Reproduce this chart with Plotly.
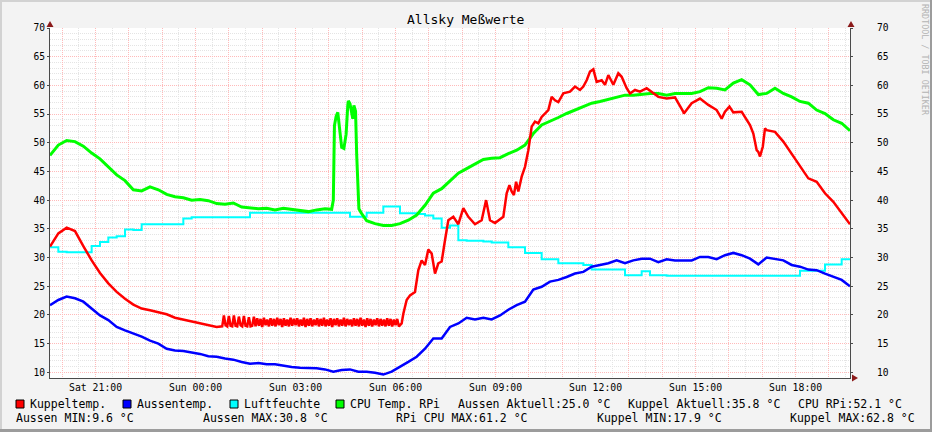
import pandas as pd
import plotly.graph_objects as go

# ---------------- data ----------------
START = "2024-06-15 19:38"   # Saturday
END = "2024-06-16 19:38"     # Sunday
base_times = pd.date_range(START, END, freq="15min")   # 97 samples

# Kuppeltemp (red): None where the detailed lists below take over
kuppel_v = [31.9, 34.2, 35.2, 34.6, 32.0, 29.5, 27.3, 25.5, 24.0, 22.8,
            21.8, 21.1, 20.8, 20.4, 20.1, 19.5, 19.2, 18.8, 18.5, 18.2,
            17.9] + [None] * 53 + [
            57.7, 57.9, 55.4, 56.9, 57.7, 56.6, 55.7, 55.4, 55.3, 55.4,
            53.1, 48.4, 52.2, 51.9, 50.2, 48.1, 45.8, 43.8, 43.2, 41.2,
            39.7, 37.7, 35.8]
# night-time flicker of the dome sensor, 3-minute samples from Sun 00:48
kuppel_noise_v = [18.0, 19.9, 18.2, 18.0, 19.8, 18.1, 18.0, 19.9, 18.1, 18.0,
                  19.7, 18.2, 18.0, 19.8, 18.1, 18.0, 19.6, 18.0, 18.1, 19.7,
                  18.0, 19.4, 18.1, 19.3, 17.9, 19.5, 18.2, 19.2, 18.0, 19.4,
                  18.1, 19.3, 18.0, 19.5, 18.2, 19.3, 17.9, 19.4, 18.1, 19.2,
                  18.0, 19.5, 18.1, 19.3, 18.2, 19.4, 18.0, 19.2, 18.1, 19.5,
                  17.9, 19.3, 18.1, 19.4, 18.0, 19.2, 18.2, 19.4, 18.0, 19.3,
                  18.1, 19.5, 18.0, 19.2, 18.1, 19.4, 17.9, 19.3, 18.2, 19.4,
                  18.0, 19.2, 18.1, 19.5, 18.0, 19.3, 18.2, 19.2, 18.0, 19.4,
                  18.1, 19.3, 18.0, 19.5, 18.1, 19.2, 17.9, 19.4, 18.1, 19.3,
                  18.0, 19.2, 18.2, 19.4, 18.0, 19.3, 18.1, 19.2, 18.0, 19.4,
                  18.1, 19.3, 18.0, 19.2, 18.2, 19.3, 18.0, 18.3]
kuppel_extra_t = ["06:11", "06:14", "06:20", "06:26", "06:35", "06:41", "06:47", "06:53",
                  "06:59", "07:05", "07:11", "07:17", "07:23", "07:29", "07:35", "07:44",
                  "07:53", "08:02", "08:11", "08:23", "08:35", "08:43", "08:50", "08:59",
                  "09:14", "09:20", "09:25", "09:29", "09:33", "09:37", "09:41", "09:47",
                  "09:53", "09:59", "10:05", "10:11", "10:17", "10:23", "10:29", "10:35",
                  "10:41", "10:47", "10:53", "11:02", "11:14", "11:23", "11:32", "11:38",
                  "11:44", "11:50", "11:56", "12:02", "12:11", "12:17", "12:23", "12:32",
                  "12:41", "12:47", "12:56", "13:02", "13:11", "13:20", "13:32", "13:44",
                  "13:53", "14:39", "15:47", "16:01", "16:44", "16:50", "16:56", "17:01",
                  "17:05"]
kuppel_extra_v = [18.5, 20.2, 22.6, 23.4, 24.0, 27.8, 29.5, 28.7,
                  31.4, 30.7, 27.2, 29.0, 29.3, 33.0, 36.5, 37.1,
                  35.8, 38.6, 37.1, 35.8, 36.5, 40.0, 36.5, 36.0,
                  37.1, 41.2, 42.6, 41.5, 40.9, 43.2, 41.5, 44.1,
                  45.8, 48.7, 52.8, 53.7, 53.4, 54.5, 55.1, 55.7,
                  58.0, 57.4, 57.1, 58.6, 58.9, 59.8, 59.2, 59.8,
                  60.9, 62.4, 62.8, 60.6, 60.9, 60.1, 61.8, 60.1,
                  62.1, 61.5, 59.5, 58.6, 59.2, 58.9, 59.5, 58.6,
                  58.0, 55.1, 54.2, 56.3, 51.6, 48.7, 47.6, 49.3,
                  52.5]

# Aussentemp (blue)
aussen_v = [21.7, 22.6, 23.2, 22.9, 22.3, 21.1, 19.9, 19.1, 17.9, 17.3,
            16.8, 16.2, 15.5, 15.0, 14.1, 13.8, 13.7, 13.5, 13.2, 12.8,
            12.7, 12.4, 12.2, 11.8, 11.5, 11.6, 11.4, 11.4, 11.1, 10.9,
            10.8, 10.8, 10.7, 10.5, 10.1, 10.4, 10.5, 10.1, 10.1, 9.9,
            9.6, 10.1, 10.9, 11.8, 12.7, 14.1, 15.9, 15.9, 17.9, 18.5,
            19.5, 19.2, 19.5, 19.2, 19.9, 20.9, 21.7, 22.3, 24.4, 24.9,
            25.8, 26.1, 26.6, 27.2, 27.5, 28.4, 28.7, 29.0, 29.5, 29.0,
            29.5, 29.8, 29.8, 29.2, 29.7, 29.5, 29.5, 29.5, 30.1, 30.1,
            29.7, 30.4, 30.8, 30.4, 29.8, 28.8, 30.0, 29.7, 29.5, 28.7,
            28.4, 27.9, 27.8, 27.2, 26.6, 26.1, 25.0]

# Luftfeuchte (cyan, stepped)
luft_v = [31.8, 31.0, 30.9, 30.9, 30.9, 32.0, 32.7, 33.5, 33.7, 34.9,
          34.8, 35.8, 35.8, 35.8, 35.8, 35.8, 36.8, 37.0, 37.0, 37.0,
          37.0, 37.0, 37.0, 37.0, 37.8, 37.8, 37.8, 37.8, 37.8, 37.8,
          37.8, 37.8, 37.8, 37.8, 37.8, 37.8, 37.1, 37.1, 37.8, 37.8,
          38.9, 38.9, 37.7, 37.7, 37.6, 37.3, 36.8, 35.2, 35.6, 33.0,
          32.9, 32.9, 32.8, 32.6, 32.6, 31.8, 31.8, 30.8, 30.8, 29.7,
          29.7, 29.0, 29.0, 29.0, 28.7, 27.9, 27.9, 27.9, 27.9, 26.9,
          26.9, 27.6, 26.9, 26.9, 26.8, 26.8, 26.8, 26.8, 26.8, 26.8,
          26.8, 26.8, 26.8, 26.8, 26.8, 26.8, 26.8, 26.8, 26.8, 26.8,
          27.7, 27.7, 27.7, 28.8, 28.8, 29.7, 29.7]

# CPU Temp. RPi (green)
cpu_v = [47.8, 49.6, 50.4, 50.2, 49.4, 48.2, 47.2, 45.8, 44.4, 43.4,
         41.8, 41.6, 42.3, 41.8, 41.0, 40.6, 40.4, 40.0, 40.1, 39.9,
         39.4, 39.3, 39.5, 38.8, 38.6, 38.5, 38.6, 38.3, 38.6, 38.4,
         38.2, 38.0, 38.3, 38.5, None, None, None, None, 36.4, 35.9,
         35.6, 35.6, 35.9, 36.5, 37.4, 39.1, 41.2, 42.0, 43.3, 44.7,
         45.5, 46.3, 47.1, 47.3, 47.4, 48.1, 48.7, 49.6, 51.6, 53.1,
         53.7, 54.4, 55.1, 55.7, 56.3, 56.9, 57.2, 57.6, 57.9, 58.3,
         58.3, 58.5, 58.6, 58.6, 58.3, 58.6, 58.6, 58.6, 58.9, 59.6,
         59.5, 59.2, 60.4, 61.0, 60.1, 58.4, 58.6, 59.5, 58.6, 58.0,
         57.2, 56.9, 55.7, 55.1, 54.0, 53.4, 52.1]
cpu_spike_t = ["04:05", "04:08", "04:10", "04:13", "04:16", "04:18", "04:21", "04:23",
               "04:27", "04:31", "04:34", "04:35", "04:38", "04:41", "04:43", "04:45",
               "04:48", "04:50", "04:52", "04:54", "04:58"]
cpu_spike_v = [38.4, 40.0, 53.0, 54.6, 55.3, 53.5, 50.5, 49.2,
               49.0, 51.5, 56.5, 57.3, 56.8, 55.0, 54.2, 56.5,
               55.5, 48.0, 41.5, 38.5, 37.8]

x_tick_hours = pd.date_range("2024-06-15 20:00", "2024-06-16 19:00", freq="1h")
x_tick_labels = {"2024-06-15 21:00": "Sat 21:00", "2024-06-16 00:00": "Sun 00:00",
                 "2024-06-16 03:00": "Sun 03:00", "2024-06-16 06:00": "Sun 06:00",
                 "2024-06-16 09:00": "Sun 09:00", "2024-06-16 12:00": "Sun 12:00",
                 "2024-06-16 15:00": "Sun 15:00", "2024-06-16 18:00": "Sun 18:00"}

legend_names = ["Kuppeltemp.", "Aussentemp.", "Luftfeuchte", "CPU Temp. RPi"]
legend_colors = ["#FF0000", "#0000FF", "#00FFFF", "#00FF00"]
stats_row1 = ["Aussen Aktuell:25.0 °C", "Kuppel Aktuell:35.8 °C", "CPU RPi:52.1 °C"]
stats_row2 = ["Aussen MIN:9.6 °C", "Aussen MAX:30.8 °C", "RPi CPU MAX:61.2 °C",
              "Kuppel MIN:17.9 °C", "Kuppel MAX:62.8 °C"]

TITLE = "Allsky Meßwerte"
Y_MIN, Y_MAX = 9, 70

# ---------------- helpers ----------------
SUN = "2024-06-16 "


def merge(base_vals, extra_t=(), extra_v=()):
    pts = [(t, v) for t, v in zip(base_times, base_vals) if v is not None]
    pts += [(pd.Timestamp(SUN + t), v) for t, v in zip(extra_t, extra_v)]
    pts.sort(key=lambda p: p[0])
    return [p[0] for p in pts], [p[1] for p in pts]


noise_times = pd.date_range(SUN + "00:48", periods=len(kuppel_noise_v), freq="3min")
k_x, k_y = merge(kuppel_v,
                 [t.strftime("%H:%M") for t in noise_times] + kuppel_extra_t,
                 kuppel_noise_v + kuppel_extra_v)
c_x, c_y = merge(cpu_v, cpu_spike_t, cpu_spike_v)

# pixel -> paper helpers (plot area: x 50..850, y 28..378)
L, R, T, B = 50, 850, 28, 378


def px(x):
    return (x - L) / (R - L)


def py(y):
    return (B - y) / (B - T)


FONT = "DejaVu Sans Mono"
fig = go.Figure()

fig.add_trace(go.Scatter(x=base_times, y=luft_v, mode="lines", line_shape="hv",
                         line=dict(color=legend_colors[2], width=2), name=legend_names[2]))
fig.add_trace(go.Scatter(x=base_times, y=aussen_v, mode="lines",
                         line=dict(color=legend_colors[1], width=2.5), name=legend_names[1]))
fig.add_trace(go.Scatter(x=c_x, y=c_y, mode="lines",
                         line=dict(color=legend_colors[3], width=3), name=legend_names[3]))
fig.add_trace(go.Scatter(x=k_x, y=k_y, mode="lines",
                         line=dict(color=legend_colors[0], width=2.5), name=legend_names[0]))
# dummy trace so the right-hand axis is drawn
fig.add_trace(go.Scatter(x=[base_times[0]], y=[None], yaxis="y2", showlegend=False,
                         hoverinfo="skip"))

tickvals = list(x_tick_hours)
ticktext = [x_tick_labels.get(t.strftime("%Y-%m-%d %H:%M"), "") for t in x_tick_hours]

MAJ = "#FFBABA"
MIN_ = "#E4E4E4"
AX = "#4A4A4A"
DASH = "1px,1px"

fig.update_layout(
    width=932, height=432, autosize=False,
    margin=dict(l=L, r=932 - R, t=T, b=432 - B, pad=0),
    paper_bgcolor="#F3F3F3", plot_bgcolor="#FFFFFF",
    font=dict(family=FONT, size=10, color="#000000"),
    showlegend=False,
    xaxis=dict(range=[START, END], tickmode="array", tickvals=tickvals, ticktext=ticktext,
               showgrid=True, gridcolor=MAJ, griddash=DASH, gridwidth=1,
               minor=dict(dtick=30 * 60 * 1000, tick0="2024-06-15 00:00", showgrid=True,
                          gridcolor=MIN_, griddash=DASH, gridwidth=1),
               showline=True, linecolor=AX, linewidth=1, zeroline=False,
               ticks="", tickfont=dict(size=9.8, family=FONT), fixedrange=True),
    yaxis=dict(range=[Y_MIN, Y_MAX], dtick=5, tick0=0,
               showgrid=True, gridcolor=MAJ, griddash=DASH, gridwidth=1,
               minor=dict(dtick=1, showgrid=True, gridcolor=MIN_, griddash=DASH,
                          gridwidth=1),
               showline=True, linecolor=AX, linewidth=1, zeroline=False,
               ticks="outside", ticklen=2, tickcolor=AX,
               tickfont=dict(size=9.6, family=FONT), fixedrange=True),
    yaxis2=dict(range=[Y_MIN, Y_MAX], dtick=5, tick0=0, overlaying="y", side="right",
                showgrid=False, showline=True, linecolor=AX, linewidth=1, zeroline=False,
                ticks="outside", ticklen=2, tickcolor=AX, ticklabelstandoff=22,
                tickfont=dict(size=9.6, family=FONT), fixedrange=True),
)

shapes = []
ann = []
ARROW = "#8B1A1A"


def tri(points):
    d = "M " + " L ".join(f"{px(a)},{py(b)}" for a, b in points) + " Z"
    return dict(type="path", xref="paper", yref="paper", path=d,
                fillcolor=ARROW, line=dict(color=ARROW, width=0))


shapes.append(tri([(46.5, 27), (53.5, 27), (50, 21)]))
shapes.append(tri([(847.5, 27), (854.5, 27), (851, 21)]))
shapes.append(tri([(852, 374.5), (852, 381.5), (858, 378)]))


# figure frame
def rect(x0, y0, x1, y1, color):
    return dict(type="rect", xref="paper", yref="paper", x0=px(x0), x1=px(x1),
                y0=py(y1), y1=py(y0), fillcolor=color, line=dict(width=0), layer="above")


shapes.append(rect(0, 0, 932, 2, "#D2D2D2"))
shapes.append(rect(0, 0, 2, 432, "#D2D2D2"))
shapes.append(rect(0, 429, 932, 432, "#9C9C9C"))
shapes.append(rect(930, 0, 932, 432, "#9C9C9C"))

# legend boxes and labels
box_x = [16, 123, 230, 336]
for bx, name, col in zip(box_x, legend_names, legend_colors):
    shapes.append(dict(type="rect", xref="paper", yref="paper",
                       x0=px(bx), x1=px(bx + 8), y0=py(408), y1=py(400),
                       fillcolor=col, line=dict(color="#000000", width=1)))
    ann.append(dict(x=px(bx + 13), y=py(404), text=name))
for xx, t in zip([457, 627, 797], stats_row1):
    ann.append(dict(x=px(xx), y=py(404), text=t))
for xx, t in zip([15, 202, 395, 596, 789], stats_row2):
    ann.append(dict(x=px(xx), y=py(418), text=t))

annotations = []
for a in ann:
    annotations.append(dict(xref="paper", yref="paper", xanchor="left", yanchor="middle",
                            showarrow=False, font=dict(family=FONT, size=11.5, color="#000000"),
                            borderpad=0, **a))
annotations.append(dict(xref="paper", yref="paper", x=px(466), y=py(20), text=TITLE,
                        showarrow=False, xanchor="center", yanchor="middle",
                        font=dict(family=FONT, size=13, color="#000000")))
annotations.append(dict(xref="paper", yref="paper", x=px(925), y=py(60),
                        text="RRDTOOL / TOBI OETIKER", textangle=90, showarrow=False,
                        xanchor="center", yanchor="middle",
                        font=dict(family=FONT, size=8.4, color="#B4B4B4")))

fig.update_layout(shapes=shapes, annotations=annotations)
fig.write_html("out.html")
